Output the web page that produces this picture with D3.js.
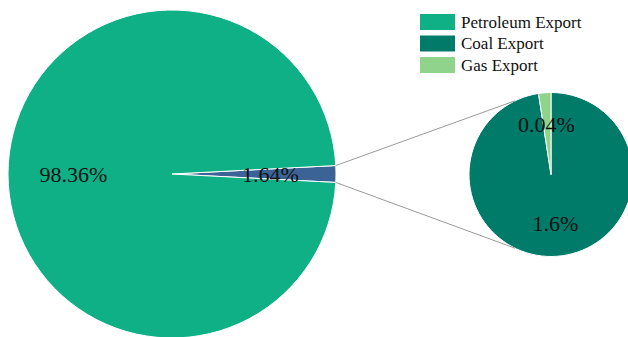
<!DOCTYPE html>
<html><head><meta charset="utf-8">
<script src="https://cdn.jsdelivr.net/npm/d3@7/dist/d3.min.js"></script>
<style>html,body{margin:0;padding:0;background:#fff;overflow:hidden}</style>
</head><body>
<svg id="chart" width="628" height="337"></svg>
<script>
const categories = ["Petroleum Export", "Coal Export", "Gas Export"];
const values = [98.36, 1.6, 0.04];
const labels = ["98.36%", "1.6%", "0.04%"];
const otherLabel = "1.64%";
const colors = ["#10b087", "#007a69", "#8fd48a"];
const otherColor = "#3b6396";

const svg = d3.select("#chart");
const font = "Liberation Serif";

// main pie
const mainC = [172, 174], mainR = 164;
const otherVal = values[1] + values[2];
const mainData = [{name: "Other", value: otherVal, color: otherColor, label: otherLabel},
                  {name: categories[0], value: values[0], color: colors[0], label: labels[0]}];
const total = d3.sum(mainData, d => d.value);
const otherAng = otherVal / total * 2 * Math.PI;
const start = Math.PI / 2 - otherAng / 2;
const mainPie = d3.pie().sort(null).value(d => d.value).startAngle(start).endAngle(start + 2 * Math.PI);
const mainArcs = mainPie(mainData);
const mainArc = d3.arc().innerRadius(0).outerRadius(mainR);
const gMain = svg.append("g").attr("transform", `translate(${mainC[0]},${mainC[1]})`);
gMain.selectAll("path").data(mainArcs).join("path")
  .attr("d", mainArc).attr("fill", d => d.data.color)
  .attr("stroke", "#fff").attr("stroke-width", 1);

// small pie
const subC = [551, 174.5], subR = 82;
const subData = [{name: categories[1], value: values[1], color: colors[1], label: labels[1]},
                 {name: categories[2], value: values[2], color: colors[2], label: labels[2]}];
const subPie = d3.pie().sort(null).value(d => d.value).startAngle(0).endAngle(2 * Math.PI);
const subArc = d3.arc().innerRadius(0).outerRadius(subR);
const gSub = svg.append("g").attr("transform", `translate(${subC[0]},${subC[1]})`);
gSub.selectAll("path").data(subPie(subData)).join("path")
  .attr("d", subArc).attr("fill", d => d.data.color)
  .attr("stroke", "#fff").attr("stroke-width", 1);

// connector lines
const oa = mainArcs[0];
const p1 = [mainC[0] + mainR * Math.sin(oa.startAngle), mainC[1] - mainR * Math.cos(oa.startAngle)];
const p2 = [mainC[0] + mainR * Math.sin(oa.endAngle), mainC[1] - mainR * Math.cos(oa.endAngle)];
const tAng = 26 * Math.PI / 180;
const q1 = [subC[0] - subR * Math.sin(tAng), subC[1] - subR * Math.cos(tAng)];
const q2 = [subC[0] - subR * Math.sin(tAng), subC[1] + subR * Math.cos(tAng)];
svg.append("line").attr("x1", p1[0]).attr("y1", p1[1]).attr("x2", q1[0]).attr("y2", q1[1])
  .attr("stroke", "#9a9a9a").attr("stroke-width", 1);
svg.append("line").attr("x1", p2[0]).attr("y1", p2[1]).attr("x2", q2[0]).attr("y2", q2[1])
  .attr("stroke", "#9a9a9a").attr("stroke-width", 1);

// labels
const lab = (x, y, t) => svg.append("text").attr("x", x).attr("y", y).text(t)
  .style("font-family", font).style("font-size", "22px").attr("fill", "#111").attr("text-anchor", "middle");
lab(73.5, 182, labels[0]);
lab(270.5, 182, otherLabel);
lab(546.5, 132, labels[2]);
lab(555.5, 231, labels[1]);

// legend
const lg = svg.append("g").attr("transform", "translate(420,14)");
categories.forEach((c, i) => {
  const row = lg.append("g").attr("transform", `translate(0,${i * 21.5})`);
  row.append("rect").attr("width", 35).attr("height", 16).attr("fill", colors[i]);
  row.append("text").attr("x", 41).attr("y", 13.5).text(c)
    .style("font-family", font).style("font-size", "17px").attr("fill", "#111");
});
</script>
</body></html>
